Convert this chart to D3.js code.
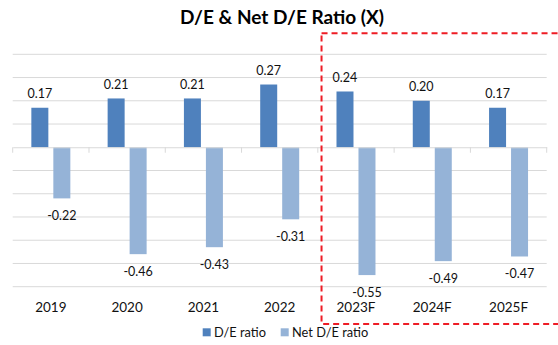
<!DOCTYPE html>
<html>
<head>
<meta charset="utf-8">
<script src="https://cdn.jsdelivr.net/npm/d3@7"></script>
<style>
  html, body { margin: 0; padding: 0; background: #fff; }
  svg { display: block; font-family: Lato, "Open Sans", sans-serif; }
</style>
</head>
<body>
<svg id="chart" width="558" height="345"></svg>
<script>
// Years on the category axis (F = forecast)
const categories = ["2019", "2020", "2021", "2022", "2023F", "2024F", "2025F"];
// Series names and values
const seriesNames = ["D/E ratio", "Net D/E ratio"];
const deRatio = [0.17, 0.21, 0.21, 0.27, 0.24, 0.20, 0.17];
const netDeRatio = [-0.22, -0.46, -0.43, -0.31, -0.55, -0.49, -0.47];
// Value-axis gridline positions
const gridTicks = [-0.6, -0.5, -0.4, -0.3, -0.2, -0.1, 0, 0.1, 0.2, 0.3, 0.4];
// First forecast year, where the highlighted box begins
const forecastStart = "2023F";

const colors = { "D/E ratio": "#4f81bd", "Net D/E ratio": "#95b3d7" };
const seriesValues = { "D/E ratio": deRatio, "Net D/E ratio": netDeRatio };

const svg = d3.select("#chart");
const plot = { left: 12.7, right: 546.7, top: 54.3, bottom: 286.7 };

const x = d3.scaleBand().domain(categories).range([plot.left, plot.right]);
const x1 = d3.scaleBand().domain(seriesNames).range([0, x.bandwidth()])
  .paddingInner(0.227).paddingOuter(0.848);
const y = d3.scaleLinear().domain([-0.6, 0.4]).range([plot.bottom, plot.top]);

// Horizontal gridlines
svg.append("g")
  .selectAll("line")
  .data(gridTicks.filter(t => t !== 0))
  .join("line")
  .attr("x1", plot.left).attr("x2", plot.right)
  .attr("y1", d => y(d)).attr("y2", d => y(d))
  .attr("stroke", "#d9d9d9").attr("stroke-width", 1);

// Bars
const rows = categories.map((c, i) => ({ c, values: seriesNames.map(s => ({ s, v: seriesValues[s][i] })) }));
const groups = svg.append("g").selectAll("g")
  .data(rows).join("g")
  .attr("transform", d => `translate(${x(d.c)},0)`);

groups.selectAll("rect")
  .data(d => d.values)
  .join("rect")
  .attr("x", d => x1(d.s))
  .attr("width", x1.bandwidth())
  .attr("y", d => y(Math.max(0, d.v)))
  .attr("height", d => Math.abs(y(d.v) - y(0)))
  .attr("fill", d => colors[d.s]);

// Zero axis with tick marks between categories
const axis = d3.axisBottom(x).tickSize(0).tickFormat("");
const axisG = svg.append("g").attr("transform", `translate(0,${y(0)})`).call(axis);
axisG.select(".domain").attr("stroke", "#d9d9d9").attr("stroke-width", 1.2);
const boundaries = categories.map(c => x(c)).concat([x(categories[categories.length - 1]) + x.bandwidth()]);
axisG.selectAll(".sep").data(boundaries).join("line")
  .attr("class", "sep")
  .attr("x1", d => d).attr("x2", d => d)
  .attr("y1", 0).attr("y2", 5.5)
  .attr("stroke", "#d9d9d9").attr("stroke-width", 1);

// Value labels (plain hyphen for negatives)
groups.selectAll("text.val")
  .data(d => d.values)
  .join("text")
  .attr("class", "val")
  .attr("x", d => x1(d.s) + x1.bandwidth() / 2)
  .attr("y", d => d.v >= 0 ? y(d.v) - 9.5 : y(d.v) + 21.5)
  .attr("text-anchor", "middle")
  .attr("font-size", 12.5)
  .attr("fill", "#111")
  .text(d => d.v.toFixed(2));

// Category labels
svg.append("g").selectAll("text")
  .data(categories).join("text")
  .attr("x", d => x(d) + x.bandwidth() / 2)
  .attr("y", 311.5)
  .attr("text-anchor", "middle")
  .attr("font-size", 13.5)
  .attr("fill", "#111")
  .text(d => d);

// Title
svg.append("text")
  .attr("x", 282).attr("y", 24)
  .attr("text-anchor", "middle")
  .attr("font-size", 19)
  .attr("font-weight", "bold")
  .attr("fill", "#000")
  .text("D/E & Net D/E Ratio (X)");

// Dashed box around the forecast years
const boxLeft = x(forecastStart) + 3.7;
svg.append("rect")
  .attr("x", boxLeft).attr("y", 33.3)
  .attr("width", 600 - boxLeft).attr("height", 324 - 33.3)
  .attr("fill", "none")
  .attr("stroke", "#ee1c25")
  .attr("stroke-width", 2)
  .attr("stroke-dasharray", "6,4");

// Legend
const legendItems = [
  { s: "D/E ratio", x: 202.7 },
  { s: "Net D/E ratio", x: 280.7 }
];
const lg = svg.append("g").selectAll("g").data(legendItems).join("g")
  .attr("transform", d => `translate(${d.x},328.3)`);
lg.append("rect").attr("width", 8).attr("height", 8).attr("fill", d => colors[d.s]);
lg.append("text").attr("x", 11.3).attr("y", 8.3)
  .attr("font-size", 12.8).attr("fill", "#111")
  .text(d => d.s);
</script>
</body>
</html>
